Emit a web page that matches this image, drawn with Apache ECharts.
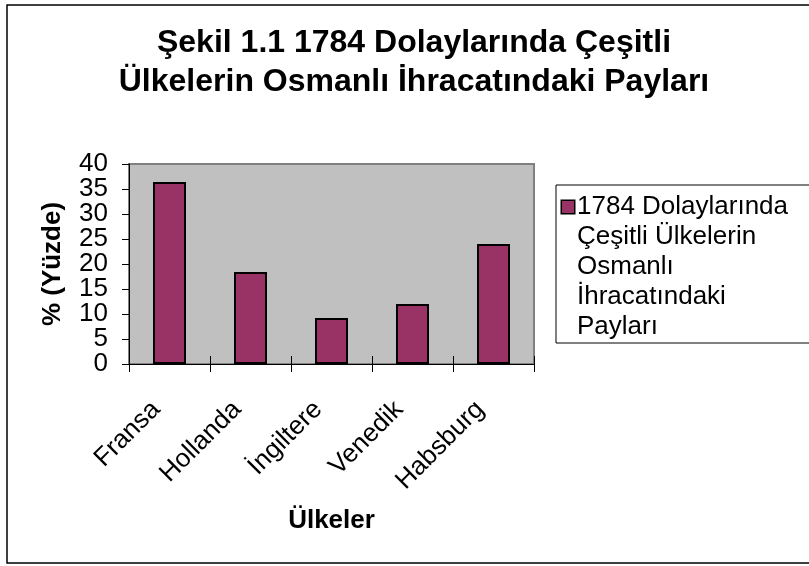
<!DOCTYPE html>
<html>
<head>
<meta charset="utf-8">
<script src="https://cdn.jsdelivr.net/npm/echarts@6/dist/echarts.min.js"></script>
<style>
html,body{margin:0;padding:0;background:#fff;}
#c{width:809px;height:566px;}
</style>
</head>
<body>
<div id="c"></div>
<script>
const categories = ['Fransa', 'Hollanda', 'İngiltere', 'Venedik', 'Habsburg'];
const values = [36.4, 18.4, 9.2, 12.0, 24.0];
const yTicks = { min: 0, max: 40, interval: 5 };
const seriesName = '1784 Dolaylarında Çeşitli Ülkelerin Osmanlı İhracatındaki Payları';
const legendLines = ['1784 Dolaylarında', 'Çeşitli Ülkelerin', 'Osmanlı', 'İhracatındaki', 'Payları'];
const titleText = 'Şekil 1.1 1784 Dolaylarında Çeşitli\nÜlkelerin Osmanlı İhracatındaki Payları';

const FONT = '"Liberation Sans", Arial, sans-serif';
const chart = echarts.init(document.getElementById('c'), null, { renderer: 'canvas' });

const yLabelStyle = { margin: 21, fontFamily: FONT, fontSize: 26, color: '#000' };

const option = {
  animation: false,
  backgroundColor: '#ffffff',
  graphic: [{
    type: 'rect',
    shape: { x: 7, y: 5, width: 830, height: 558 },
    style: { fill: 'none', stroke: '#000', lineWidth: 1.5 },
    silent: true
  }, {
    type: 'text',
    x: 414,
    y: 24,
    silent: true,
    style: {
      text: titleText,
      fontFamily: FONT, fontSize: 32, fontWeight: 'bold', fill: '#000',
      lineHeight: 39, align: 'center', verticalAlign: 'top'
    }
  }],
  legend: {
    left: 556,
    top: 185,
    orient: 'vertical',
    icon: 'rect',
    itemWidth: 0,
    itemHeight: 0,
    padding: [7, 60, 1, 0],
    borderColor: '#000',
    borderWidth: 1,
    backgroundColor: '#fff',
    data: [seriesName],
    formatter: function () {
      return legendLines.map(function (l, i) {
        return (i === 0 ? '{sq|}{sp|}' : '{ind|}') + '{t|' + l + '}';
      }).join('\n');
    },
    textStyle: {
      fontFamily: FONT, fontSize: 26, color: '#000', lineHeight: 30,
      rich: {
        sq: { width: 12, height: 12, backgroundColor: '#993366', borderColor: '#000', borderWidth: 1.5, lineHeight: 30 },
        sp: { width: 3, lineHeight: 30 },
        ind: { width: 15, lineHeight: 30 },
        t: { fontFamily: FONT, fontSize: 26, color: '#000', lineHeight: 30 }
      }
    }
  },
  grid: {
    left: 129, top: 164, width: 405, height: 200,
    show: true, backgroundColor: '#c0c0c0', borderColor: '#808080', borderWidth: 2,
    containLabel: false
  },
  xAxis: [{
    type: 'category',
    position: 'bottom',
    data: categories,
    axisLine: { show: true, lineStyle: { color: '#000', width: 1 } },
    axisTick: { show: true, length: 8, lineStyle: { color: '#000', width: 1 } },
    axisLabel: { interval: 0, rotate: 45, margin: 28, padding: [0, 19, 0, 0], fontFamily: FONT, fontSize: 26, color: '#000' },
    name: 'Ülkeler',
    nameLocation: 'middle',
    nameGap: 144,
    nameTextStyle: { fontFamily: FONT, fontSize: 26, fontWeight: 'bold', color: '#000' },
    splitLine: { show: false }
  }, {
    type: 'category',
    position: 'bottom',
    data: categories,
    axisLine: { show: false },
    axisTick: { show: true, inside: true, length: 8, lineStyle: { color: '#000', width: 1 } },
    axisLabel: { show: false },
    splitLine: { show: false }
  }],
  yAxis: [{
    type: 'value',
    position: 'left',
    min: yTicks.min, max: yTicks.max, interval: yTicks.interval,
    axisLine: { show: true, lineStyle: { color: '#000', width: 1 } },
    axisTick: { show: true, length: 7, lineStyle: { color: '#000', width: 1 } },
    axisLabel: Object.assign({
      formatter: function (v) { return v % (2 * yTicks.interval) === 0 ? String(v) : ''; }
    }, yLabelStyle),
    splitLine: { show: false },
    name: '% (Yüzde)',
    nameLocation: 'middle',
    nameRotate: 90,
    nameGap: 63,
    nameTextStyle: { fontFamily: FONT, fontSize: 26, fontWeight: 'bold', color: '#000' }
  }, {
    type: 'value',
    position: 'left',
    offset: 0,
    min: yTicks.min, max: yTicks.max, interval: yTicks.interval,
    axisLine: { show: false },
    axisTick: { show: false },
    axisLabel: Object.assign({
      formatter: function (v) { return v % (2 * yTicks.interval) !== 0 ? String(v) : ''; }
    }, yLabelStyle),
    splitLine: { show: false }
  }],
  series: [{
    type: 'bar',
    name: seriesName,
    xAxisIndex: 0,
    yAxisIndex: 0,
    data: values,
    barWidth: 33,
    itemStyle: { color: '#993366', borderColor: '#000', borderWidth: 2 }
  }]
};
chart.setOption(option);
</script>
</body>
</html>
